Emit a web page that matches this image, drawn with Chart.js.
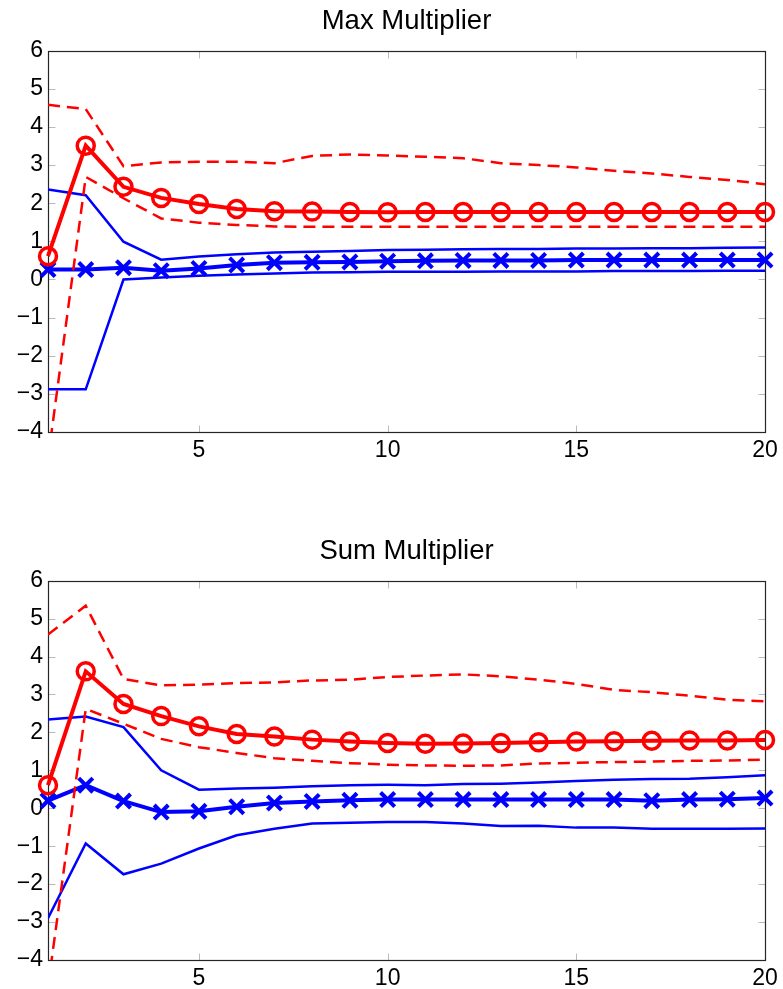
<!DOCTYPE html>
<html>
<head>
<meta charset="utf-8">
<script src="https://cdn.jsdelivr.net/npm/chart.js@4.4.1/dist/chart.umd.min.js"></script>
<style>
  html, body { margin: 0; padding: 0; background: #fff; }
  .panel { position: absolute; left: 0; width: 783px; }
</style>
</head>
<body>
<div class="panel" style="top:0"><canvas id="chart-max" width="783" height="462"></canvas></div>
<div class="panel" style="top:530px"><canvas id="chart-sum" width="783" height="460"></canvas></div>
<script>
// ===== DATA =====
const horizons = [1,2,3,4,5,6,7,8,9,10,11,12,13,14,15,16,17,18,19,20];
const xTicks = [5, 10, 15, 20];
const yTicks = [-4,-3,-2,-1,0,1,2,3,4,5,6];

// Max Multiplier
const maxRed     = [0.61, 3.51, 2.43, 2.14, 1.98, 1.85, 1.79, 1.78, 1.77, 1.76, 1.77, 1.77, 1.77, 1.77, 1.77, 1.77, 1.77, 1.77, 1.77, 1.77];
const maxRedHi   = [4.58, 4.47, 2.97, 3.07, 3.09, 3.09, 3.05, 3.24, 3.28, 3.25, 3.22, 3.18, 3.05, 3.00, 2.94, 2.85, 2.78, 2.69, 2.61, 2.50];
const maxRedLo   = [-4.7, 2.69, 2.13, 1.60, 1.49, 1.43, 1.39, 1.38, 1.38, 1.38, 1.38, 1.38, 1.38, 1.38, 1.38, 1.38, 1.38, 1.38, 1.38, 1.38];
const maxBlue    = [0.26, 0.26, 0.31, 0.23, 0.29, 0.38, 0.44, 0.45, 0.46, 0.48, 0.49, 0.50, 0.50, 0.50, 0.51, 0.51, 0.51, 0.51, 0.51, 0.51];
const maxBlueHi  = [2.36, 2.21, 0.99, 0.52, 0.60, 0.66, 0.71, 0.73, 0.75, 0.77, 0.78, 0.79, 0.80, 0.80, 0.81, 0.81, 0.82, 0.82, 0.83, 0.84];
const maxBlueLo  = [-2.88, -2.88, 0.00, 0.05, 0.10, 0.13, 0.16, 0.18, 0.19, 0.20, 0.20, 0.20, 0.21, 0.21, 0.21, 0.22, 0.22, 0.22, 0.23, 0.23];

// Sum Multiplier
const sumRed     = [0.61, 3.61, 2.75, 2.43, 2.16, 1.96, 1.89, 1.81, 1.76, 1.72, 1.70, 1.71, 1.72, 1.74, 1.76, 1.77, 1.78, 1.79, 1.79, 1.80];
const sumRedHi   = [4.58, 5.34, 3.41, 3.24, 3.26, 3.30, 3.32, 3.37, 3.39, 3.46, 3.50, 3.53, 3.48, 3.39, 3.28, 3.12, 3.06, 2.97, 2.86, 2.82];
const sumRedLo   = [-4.7, 2.62, 2.23, 1.83, 1.61, 1.46, 1.32, 1.25, 1.19, 1.15, 1.13, 1.12, 1.13, 1.18, 1.20, 1.22, 1.23, 1.25, 1.26, 1.28];
const sumBlue    = [0.20, 0.61, 0.19, -0.10, -0.08, 0.04, 0.14, 0.18, 0.21, 0.23, 0.23, 0.23, 0.23, 0.23, 0.23, 0.23, 0.20, 0.23, 0.24, 0.27];
const sumBlueHi  = [2.34, 2.42, 2.14, 1.00, 0.49, 0.52, 0.54, 0.58, 0.61, 0.62, 0.61, 0.64, 0.65, 0.68, 0.72, 0.75, 0.77, 0.78, 0.82, 0.87];
const sumBlueLo  = [-2.90, -0.93, -1.74, -1.46, -1.06, -0.71, -0.54, -0.40, -0.38, -0.36, -0.36, -0.40, -0.47, -0.46, -0.51, -0.51, -0.54, -0.54, -0.54, -0.53];

const RED = '#ff0000';
const BLUE = '#0000ff';
const FONT = "'Liberation Sans', Arial, Helvetica, sans-serif";

const pts = arr => arr.map((v, i) => ({ x: horizons[i], y: v }));

// box + inward ticks, matlab style; title centred over the plot box
const framePlugin = {
  id: 'frame',
  afterLayout(chart) {
    if (chart.titleBlock) {
      chart.titleBlock.left = chart.chartArea.left;
      chart.titleBlock.right = chart.chartArea.right;
    }
  },
  beforeDatasetsDraw(chart) {
    const { ctx, chartArea: a, scales: { x, y } } = chart;
    const L = Math.round(a.left) + 0.5, R = Math.round(a.right) + 0.5;
    const T = Math.round(a.top) + 0.5, B = Math.round(a.bottom) + 0.5;
    ctx.save();
    ctx.lineWidth = 1;
    ctx.strokeStyle = '#bbb';
    ctx.beginPath();
    yTicks.forEach(v => {
      const py = Math.round(y.getPixelForValue(v)) + 0.5;
      ctx.moveTo(L, py); ctx.lineTo(L + 7, py);
      ctx.moveTo(R, py); ctx.lineTo(R - 7, py);
    });
    xTicks.forEach(v => {
      const px = Math.round(x.getPixelForValue(v)) + 0.5;
      ctx.moveTo(px, B); ctx.lineTo(px, B - 7);
      ctx.moveTo(px, T); ctx.lineTo(px, T + 7);
    });
    ctx.stroke();
    ctx.strokeStyle = '#262626';
    ctx.lineWidth = 1.2;
    ctx.strokeRect(L, T, R - L, B - T);
    ctx.restore();
  }
};

function makeChart(canvasId, title, d) {
  return new Chart(document.getElementById(canvasId), {
    type: 'line',
    data: {
      datasets: [
        { data: pts(d.redEst), borderColor: RED, borderWidth: 4, pointStyle: 'circle', pointRadius: 8.5,
          pointBorderWidth: 3.5, pointBackgroundColor: 'rgba(0,0,0,0)', pointBorderColor: RED, clip: false, order: 1 },
        { data: pts(d.redHi), borderColor: RED, borderWidth: 2.5, borderDash: [12, 7], pointRadius: 0, order: 2 },
        { data: pts(d.redLo), borderColor: RED, borderWidth: 2.5, borderDash: [12, 7], pointRadius: 0, order: 3 },
        { data: pts(d.blueEst), borderColor: BLUE, borderWidth: 4, pointStyle: 'crossRot', pointRadius: 10,
          pointBorderWidth: 4, pointBorderColor: BLUE, clip: false, order: 4 },
        { data: pts(d.blueHi), borderColor: BLUE, borderWidth: 2.5, pointRadius: 0, order: 5 },
        { data: pts(d.blueLo), borderColor: BLUE, borderWidth: 2.5, pointRadius: 0, order: 6 }
      ]
    },
    options: {
      responsive: false,
      animation: false,
      tension: 0,
      layout: { padding: { left: 0, right: 18, top: 0, bottom: 0 } },
      plugins: {
        legend: { display: false },
        tooltip: { enabled: false },
        title: {
          display: true, text: title, color: '#000',
          font: { family: FONT, size: 27.5, weight: 'normal' },
          padding: { top: 5.3, bottom: 12.4 }
        }
      },
      scales: {
        x: {
          type: 'linear', min: 1, max: 20,
          grid: { display: false, drawTicks: false },
          border: { display: false },
          afterBuildTicks: s => { s.ticks = xTicks.map(v => ({ value: v })); },
          afterFit: s => { s.height = 30; },
          ticks: { color: '#000', padding: 5, maxRotation: 0, font: { family: FONT, size: 23 } }
        },
        y: {
          min: -4, max: 6,
          grid: { display: false, drawTicks: false },
          border: { display: false },
          afterBuildTicks: s => { s.ticks = yTicks.map(v => ({ value: v })); },
          afterFit: s => { s.width = 48; },
          ticks: {
            color: '#000', padding: 5, font: { family: FONT, size: 23 },
            callback: v => String(v).replace('-', '\u2212')
          }
        }
      }
    },
    plugins: [framePlugin]
  });
}

makeChart('chart-max', 'Max Multiplier', {
  redEst: maxRed, redHi: maxRedHi, redLo: maxRedLo,
  blueEst: maxBlue, blueHi: maxBlueHi, blueLo: maxBlueLo
});
makeChart('chart-sum', 'Sum Multiplier', {
  redEst: sumRed, redHi: sumRedHi, redLo: sumRedLo,
  blueEst: sumBlue, blueHi: sumBlueHi, blueLo: sumBlueLo
});
</script>
</body>
</html>
